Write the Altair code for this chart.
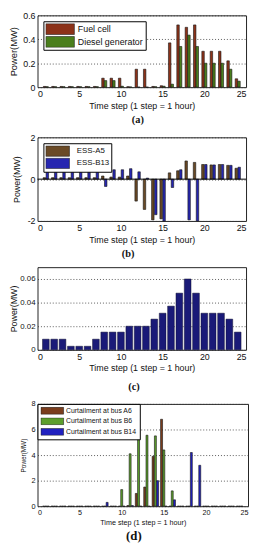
import altair as alt
import pandas as pd

hours = list(range(1, 25))

# (a) generation
fuel_cell = [0.006, 0.006, 0.006, 0.006, 0.006, 0.006, 0.006, 0.075, 0.075, 0.075, 0.004, 0.15,
             0.15, 0.006, 0.012, 0.37, 0.52, 0.50, 0.52, 0.30, 0.30, 0.30, 0.22, 0.07]
diesel_gen = [0.004, 0.004, 0.004, 0.004, 0.004, 0.004, 0.004, 0.055, 0.055, 0.008, 0.002, 0.0,
              0.0, 0.004, 0.008, 0.025, 0.34, 0.435, 0.34, 0.20, 0.20, 0.20, 0.15, 0.05]

# (b) storage
ess_a5 = [0.07, 0.07, 0.07, 0.07, 0.07, 0.07, 0.07, 0.15, 0.10, 0.10, 0.15, -1.05,
          -1.45, -1.95, -1.90, 0.30, 0.40, 0.87, 0.80, 0.70, 0.68, 0.70, 0.66, 0.52]
ess_b13 = [0.40, 0.40, 0.40, 0.38, 0.38, 0.38, 0.40, -0.35, 0.45, 0.45, 0.50, 0.35,
           0.05, -1.70, -2.00, -0.40, 0.45, -1.95, -2.00, 0.70, 0.68, 0.70, 0.66, 0.57]

# (c)
load_c = [0.009, 0.009, 0.009, 0.003, 0.003, 0.003, 0.009, 0.015, 0.015, 0.015, 0.020, 0.020,
          0.020, 0.026, 0.031, 0.037, 0.048, 0.060, 0.048, 0.031, 0.031, 0.031, 0.026, 0.015]

# (d) curtailment
curt_a6 = [0, 0, 0, 0, 0, 0, 0, 0, 0, 0, 0.05, 1.0,
           1.5, 3.9, 6.8, 0, 0, 0, 0, 0, 0, 0, 0, 0]
curt_b6 = [0, 0, 0, 0, 0, 0, 0, 0, 0, 1.3, 4.1, 5.5,
           5.55, 5.5, 4.4, 1.2, 0, 0, 0, 0, 0, 0, 0, 0]
curt_b14 = [0, 0, 0, 0, 0, 0, 0, 0.3, 0, 0, 0.05, 0,
            0, 2.0, 0, 0.5, 0, 4.2, 3.2, 0, 0, 0, 0, 0]

x_ticks = [0, 5, 10, 15, 20, 25]
SANS = "Liberation Sans"
SERIF = "Liberation Serif"
XTITLE = "Time step (1 step = 1 hour)"
PATH_A = "M-1,-1.22H5.44V1.22H-1Z"
PATH_B = "M-1,-1.17H4.33V1.17H-1Z"
PATH_D = "M-1,-1H5.57V1H-1Z"


def long_df(names, series):
    rows = []
    for n, vals in zip(names, series):
        for h, v in zip(hours, vals):
            rows.append({"hour": h, "value": v, "series": n})
    return pd.DataFrame(rows)


def x_enc(fs):
    return alt.X("hour:Q", scale=alt.Scale(domain=[0, 25], nice=False, padding=0, zero=False),
                 axis=alt.Axis(values=x_ticks, title=XTITLE, grid=False, ticks=False, domain=False,
                               labelFont=SANS, labelFontSize=fs, labelPadding=2.5,
                               titleFont=SANS, titleFontSize=fs, titleFontWeight="normal",
                               titlePadding=3, labelColor="#111", titleColor="#111"))


def y_enc(dom, vals, fs, tfs, tpad):
    return alt.Y("value:Q", stack=None, scale=alt.Scale(domain=dom, nice=False, zero=False),
                 axis=alt.Axis(values=vals, labelExpr="datum.value + ''", title="Power(MW)",
                               grid=True, gridDash=[1, 2], gridColor="#333", gridWidth=0.8,
                               ticks=False, domain=False, labelFont=SANS, labelFontSize=fs,
                               labelPadding=2.5, titleFont=SANS, titleFontSize=tfs,
                               titleFontWeight="normal", titlePadding=tpad,
                               labelColor="#111", titleColor="#111"))


def legend(path, fs, offset, size, loff, rowpad, pad, clip):
    return alt.Legend(orient="top-left", offset=offset, title=None, fillColor="white",
                      strokeColor="black", padding=pad, symbolType=path, symbolSize=size,
                      symbolStrokeColor="#222", symbolStrokeWidth=0.6, symbolOpacity=1,
                      labelFont=SANS, labelFontSize=fs, labelOffset=loff, rowPadding=rowpad,
                      labelColor="#111", clipHeight=clip)


def ptitle(txt, fs, offset, dx):
    return alt.TitleParams(txt, orient="bottom", font=SERIF, fontWeight="bold", fontSize=fs,
                           offset=offset, dx=dx, color="#111")


def grouped(names, series, colors, offsets, width, xfs, yfs, ytfs, ytpad, dom, vals, leg):
    df = long_df(names, series)
    color = alt.Color("series:N", scale=alt.Scale(domain=names, range=colors), legend=leg)
    base = alt.Chart(df).encode(x=x_enc(xfs), y=y_enc(dom, vals, yfs, ytfs, ytpad), color=color)
    layers = []
    for n, off in zip(names, offsets):
        layers.append(base.transform_filter(alt.datum.series == n)
                      .mark_bar(width=width, xOffset=off, opacity=1,
                                stroke="#151515", strokeWidth=0.6))
    return layers


# panel (a)
names_a = ["Fuel cell", "Diesel generator"]
layers_a = grouped(names_a, [fuel_cell, diesel_gen], ["#8c3219", "#4a7e1c"], [-1.3, 1.3], 2.5,
                   9, 9, 9.5, 4, [0, 0.6], [0, 0.2, 0.4, 0.6],
                   legend(PATH_A, 9, 6, 81, 23, 1, 2, 12))
chart_a = alt.layer(*layers_a).properties(width=212, height=73,
                                          title=ptitle("(a)", 10.5, 5, -4))

# panel (b)
names_b = ["ESS-A5", "ESS-B13"]
layers_b = grouped(names_b, [ess_a5, ess_b13], ["#6a4a26", "#2626b0"], [-1.5, 1.5], 2.5,
                   9, 9, 9, 6, [-2, 2], [-2, -1, 0, 1, 2],
                   legend(PATH_B, 8, 6, 81, 22, 0.5, 2, 12))
zero_b = alt.Chart(pd.DataFrame({"value": [0]})).mark_rule(color="black", strokeWidth=1).encode(
    y=alt.Y("value:Q"))
chart_b = alt.layer(*layers_b, zero_b).properties(width=212, height=85,
                                                  title=ptitle("(b)", 10.5, 5, -14))

# panel (c)
df_c = pd.DataFrame({"hour": hours, "value": load_c})
chart_c = alt.Chart(df_c).mark_bar(width=6.8, color="#1a1a78", stroke="#101030",
                                   strokeWidth=0.5).encode(
    x=x_enc(9), y=y_enc([0, 0.07], [0, 0.02, 0.04, 0.06], 8, 9, 1)
).properties(width=212, height=84, title=ptitle("(c)", 10.5, 9, -8))

# panel (d)
names_d = ["Curtailment at bus A6", "Curtailment at bus B6", "Curtailment at bus B14"]
layers_d = grouped(names_d, [curt_a6, curt_b6, curt_b14], ["#7a3d1d", "#5c9e2c", "#2020c0"],
                   [-2.3, 0, 2.3], 2, 7.3, 7.5, 6.5, 4.5, [0, 8], [0, 2, 4, 6, 8],
                   legend(PATH_D, 7, 0, 49, 18, 2.7, 3, 8))
chart_d = alt.layer(*layers_d).properties(width=214, height=104,
                                          title=ptitle("(d)", 13, 4, -9))

chart = alt.vconcat(chart_a, chart_b, chart_c, chart_d, spacing=6).resolve_scale(
    x="independent", y="independent", color="independent"
).properties(
    padding={"top": -2, "left": 0, "right": 0, "bottom": 0},
    background="white"
).configure_view(stroke="#222", strokeWidth=1).configure_legend(
    strokeColor="black", strokeWidth=1, fillColor="white"
)

chart.save("out.html", embed_options={"renderer": "svg", "actions": False})
